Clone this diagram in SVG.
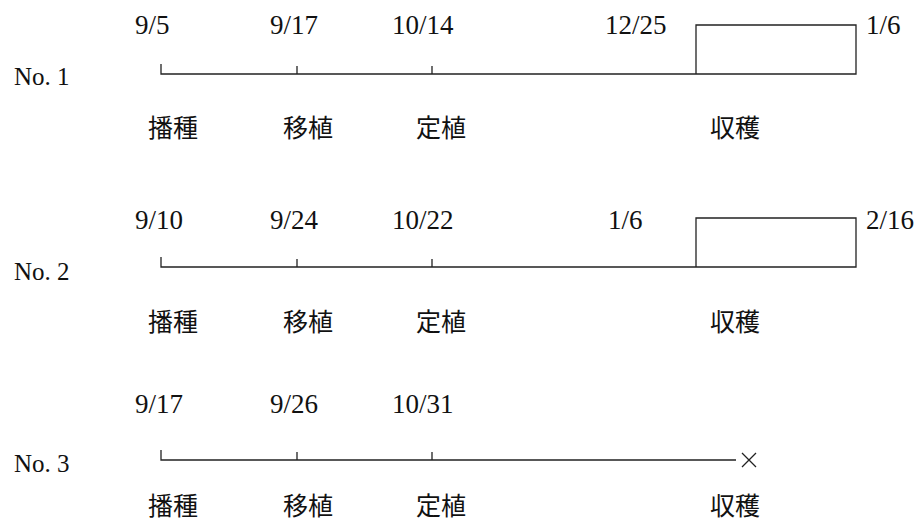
<svg xmlns="http://www.w3.org/2000/svg" width="922" height="522" viewBox="0 0 922 522">
<style>
.d{font-family:"Liberation Serif","Noto Sans CJK JP",serif;font-size:27px;fill:#111}
.n{font-family:"Liberation Serif","Noto Sans CJK JP",serif;font-size:25px;fill:#111}
.j{font-family:"Noto Sans CJK JP","Liberation Serif",serif;font-size:25px;fill:#111}
.ln{stroke:#222;stroke-width:1.3;fill:none}
</style>
<rect width="922" height="522" fill="#fff"/>
<g id="row1">
<text class="n" x="14" y="85">No. 1</text>
<text class="d" x="135" y="34">9/5</text>
<text class="d" x="270" y="34">9/17</text>
<text class="d" x="392" y="34">10/14</text>
<text class="d" x="605" y="34">12/25</text>
<text class="d" x="866" y="34">1/6</text>
<text class="j" x="148" y="137">播種</text>
<text class="j" x="283" y="137">移植</text>
<text class="j" x="416" y="137">定植</text>
<text class="j" x="710" y="137">収穫</text>
</g>
<g id="row2">
<text class="n" x="14" y="280">No. 2</text>
<text class="d" x="135" y="229">9/10</text>
<text class="d" x="270" y="229">9/24</text>
<text class="d" x="392" y="229">10/22</text>
<text class="d" x="608" y="229">1/6</text>
<text class="d" x="866" y="229">2/16</text>
<text class="j" x="148" y="331">播種</text>
<text class="j" x="283" y="331">移植</text>
<text class="j" x="416" y="331">定植</text>
<text class="j" x="710" y="331">収穫</text>
</g>
<g id="row3">
<text class="n" x="14" y="472">No. 3</text>
<text class="d" x="135" y="413">9/17</text>
<text class="d" x="270" y="413">9/26</text>
<text class="d" x="392" y="413">10/31</text>
<text class="j" x="148" y="515">播種</text>
<text class="j" x="283" y="515">移植</text>
<text class="j" x="416" y="515">定植</text>
<text class="j" x="710" y="515">収穫</text>
</g>
<g id="connectors">
<path class="ln" d="M161 64V74H856V25H696V74M297 66V74M432 66V74"/>
<path class="ln" d="M161 257V267H856V218H696V267M297 259V267M432 259V267"/>
<path class="ln" d="M161 450V460H736M297 452V460M432 452V460"/>
<path class="ln" d="M742 453L756 467M756 453L742 467"/>
</g>
</svg>
